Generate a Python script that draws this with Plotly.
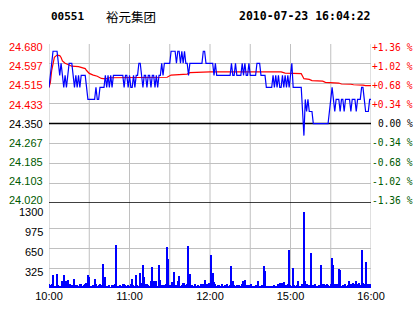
import plotly.graph_objects as go

# ---------------- data ----------------
PREV_CLOSE = 24.35
minutes = list(range(241))

price = [
    24.50, 24.55, 24.60, 24.65, 24.65, 24.65, 24.65, 24.60, 24.55, 24.60,
    24.55, 24.50, 24.55, 24.50, 24.55, 24.60, 24.60, 24.60, 24.55, 24.50,
    24.55, 24.50, 24.55, 24.50, 24.55, 24.55, 24.55, 24.55, 24.50, 24.45,
    24.45, 24.45, 24.45, 24.45, 24.45, 24.50, 24.45, 24.45, 24.50, 24.50,
    24.50, 24.50, 24.55, 24.50, 24.55, 24.50, 24.55, 24.50, 24.55, 24.55,
    24.55, 24.55, 24.55, 24.55, 24.55, 24.55, 24.50, 24.55, 24.55, 24.50,
    24.55, 24.50, 24.50, 24.55, 24.50, 24.55, 24.55, 24.60, 24.60, 24.55,
    24.50, 24.55, 24.55, 24.50, 24.55, 24.55, 24.50, 24.55, 24.55, 24.50,
    24.55, 24.50, 24.55, 24.55, 24.60, 24.55, 24.60, 24.60, 24.60, 24.60,
    24.60, 24.65, 24.65, 24.65, 24.65, 24.60, 24.65, 24.65, 24.60, 24.65,
    24.60, 24.65, 24.60, 24.60, 24.55, 24.60, 24.60, 24.60, 24.60, 24.60,
    24.60, 24.60, 24.60, 24.60, 24.60, 24.65, 24.65, 24.60, 24.60, 24.60,
    24.60, 24.60, 24.60, 24.55, 24.60, 24.55, 24.55, 24.55, 24.55, 24.55,
    24.55, 24.55, 24.55, 24.55, 24.55, 24.55, 24.60, 24.55, 24.55, 24.60,
    24.55, 24.55, 24.55, 24.55, 24.60, 24.55, 24.60, 24.55, 24.55, 24.60,
    24.55, 24.55, 24.55, 24.55, 24.55, 24.60, 24.60, 24.60, 24.55, 24.55,
    24.55, 24.55, 24.50, 24.50, 24.50, 24.50, 24.50, 24.55, 24.50, 24.55,
    24.50, 24.55, 24.50, 24.50, 24.55, 24.50, 24.55, 24.50, 24.55, 24.50,
    24.55, 24.60, 24.50, 24.50, 24.50, 24.50, 24.50, 24.50, 24.50, 24.40,
    24.30, 24.45, 24.40, 24.45, 24.40, 24.40, 24.40, 24.35, 24.35, 24.35,
    24.35, 24.35, 24.35, 24.35, 24.35, 24.35, 24.35, 24.35, 24.35, 24.40,
    24.45, 24.50, 24.45, 24.40, 24.45, 24.45, 24.45, 24.40, 24.45, 24.45,
    24.40, 24.45, 24.45, 24.45, 24.45, 24.40, 24.45, 24.45, 24.45, 24.40,
    24.45, 24.45, 24.45, 24.50, 24.50, 24.45, 24.40, 24.40, 24.40, 24.45,
    24.45,
]

avg_minutes = [0, 1, 2, 3, 4, 6, 8, 9, 10, 12, 15, 17, 22, 25, 27, 28, 30, 33, 36,
               39, 42, 45, 60, 75, 88, 91, 103, 105, 120, 173, 176, 188, 190, 194,
               196, 204, 206, 216, 218, 225, 227, 234, 236, 240]
avg_price = [24.500, 24.520, 24.570, 24.605, 24.625, 24.634, 24.632, 24.624, 24.610,
             24.600, 24.594, 24.588, 24.586, 24.581, 24.578, 24.570, 24.558, 24.551,
             24.546, 24.537, 24.535, 24.540, 24.540, 24.541, 24.542, 24.551, 24.555,
             24.561, 24.564, 24.564, 24.559, 24.557, 24.536, 24.533, 24.528, 24.526,
             24.521, 24.518, 24.514, 24.513, 24.511, 24.509, 24.507, 24.507]

volume = [
    60, 50, 70, 220, 40, 30, 235, 45, 40, 40,
    120, 220, 50, 110, 137, 30, 60, 45, 40, 154,
    50, 55, 40, 60, 60, 40, 45, 70, 90, 220,
    175, 30, 40, 50, 154, 70, 40, 45, 60, 55,
    400, 142, 186, 30, 40, 55, 20, 45, 50, 60,
    714, 40, 35, 45, 40, 60, 70, 45, 35, 50,
    40, 60, 154, 45, 40, 220, 50, 40, 253, 90,
    384, 175, 60, 70, 45, 40, 120, 340, 120, 120,
    120, 40, 384, 140, 45, 40, 50, 60, 680, 483,
    45, 40, 104, 269, 40, 45, 120, 192, 40, 45,
    90, 80, 45, 70, 697, 236, 50, 45, 35, 70,
    40, 50, 40, 70, 40, 60, 137, 45, 70, 80,
    60, 549, 247, 93, 60, 30, 50, 45, 30, 60,
    30, 45, 50, 60, 40, 45, 368, 121, 50, 40,
    45, 30, 50, 40, 60, 110, 137, 30, 45, 50,
    30, 60, 40, 30, 45, 50, 121, 30, 35, 50,
    368, 285, 40, 35, 30, 40, 30, 30, 45, 30,
    40, 60, 80, 40, 82, 100, 40, 55, 70, 620,
    55, 40, 335, 45, 30, 50, 121, 30, 40, 60,
    1246, 110, 60, 30, 55, 571, 30, 50, 60, 30,
    40, 55, 30, 384, 60, 70, 45, 70, 50, 40,
    60, 500, 373, 70, 45, 60, 318, 291, 30, 50,
    40, 60, 30, 50, 110, 70, 60, 80, 60, 120,
    60, 80, 50, 620, 90, 70, 423, 30, 60, 70,
    60,
]

price_ticks = [24.020, 24.1025, 24.185, 24.2675, 24.350, 24.4325, 24.515, 24.5975, 24.680]
price_labels = ["24.020", "24.103", "24.185", "24.267", "24.350", "24.433", "24.515", "24.597", "24.680"]
pct_labels = ["-1.36 %", "-1.02 %", "-0.68 %", "-0.34 %", "0.00 %", "+0.34 %", "+0.68 %", "+1.02 %", "+1.36 %"]
vol_ticks = [0, 325, 650, 975, 1300]
vol_labels = ["", "325", "650", "975", "1300"]
grid_minutes = [0, 30, 60, 90, 120, 150, 180, 210, 240]
time_ticks = [0, 60, 120, 180, 240]
time_labels = ["10:00", "11:00", "12:00", "15:00", "16:00"]
stock_code = "00551"
stock_name = "裕元集团"
stamp = "2010-07-23 16:04:22"

# ---------------- style ----------------
RED = "#ff0000"
GREEN = "#005a00"
BLUE = "#0000ff"
GRID = "#c0c0c0"


def colour_for(v):
    if v > PREV_CLOSE + 1e-9:
        return RED
    if v < PREV_CLOSE - 1e-9:
        return GREEN
    return "#000000"


fig = go.Figure()

fig.add_trace(go.Scatter(x=avg_minutes, y=avg_price, mode="lines",
                         line=dict(color=RED, width=1.2), xaxis="x", yaxis="y",
                         hoverinfo="skip"))
fig.add_trace(go.Scatter(x=minutes, y=price, mode="lines",
                         line=dict(color=BLUE, width=1.2), xaxis="x", yaxis="y",
                         hoverinfo="skip"))
fig.add_trace(go.Bar(x=minutes, y=volume, width=0.9, marker=dict(color=BLUE, line=dict(width=0)),
                     xaxis="x2", yaxis="y2", hoverinfo="skip"))

shapes = []
for gm in grid_minutes:
    shapes.append(dict(type="line", xref="x", yref="paper", x0=gm, x1=gm, y0=0, y1=1,
                       line=dict(color=GRID, width=1), layer="below"))
for yv in (PREV_CLOSE, price_ticks[0]):
    shapes.append(dict(type="line", xref="x", yref="y", x0=0, x1=240, y0=yv, y1=yv,
                       line=dict(color="#000000", width=1.6), layer="between"))

label_font = dict(family="Liberation Sans, Arial, sans-serif", size=11, color="#000000")
mono_font = "DejaVu Sans Mono, monospace"

fig.update_layout(
    width=414, height=314,
    margin=dict(l=49, r=43, t=44, b=26),
    paper_bgcolor="white", plot_bgcolor="rgba(0,0,0,0)",
    showlegend=False, bargap=0,
    shapes=shapes,
    xaxis=dict(domain=[0, 1], range=[0, 240], showgrid=False, zeroline=False,
               showticklabels=False, anchor="y", fixedrange=True, automargin=False),
    xaxis2=dict(domain=[0, 1], range=[0, 240], showgrid=False, zeroline=False,
                tickmode="array", tickvals=time_ticks, ticktext=time_labels,
                tickfont=label_font, ticks="", anchor="y2", fixedrange=True,
                automargin=False),
    yaxis=dict(domain=[0.348, 1], range=[price_ticks[0], price_ticks[-1]],
               tickmode="array", tickvals=price_ticks, showticklabels=False,
               showgrid=True, gridcolor=GRID, gridwidth=1, zeroline=False,
               ticks="", anchor="x", automargin=False),
    yaxis2=dict(domain=[0, 0.324], range=[0, 1300], tickmode="array",
                tickvals=vol_ticks, showticklabels=False, showgrid=True, gridcolor=GRID,
                gridwidth=1, zeroline=False, ticks="", anchor="x2", automargin=False),
)

# price axis labels (left) and percentage labels (right), placed via the y scale
for i, (v, lt, pt) in enumerate(zip(price_ticks, price_labels, pct_labels)):
    shift = 2.8 - 0.75 * i
    col = colour_for(v)
    fig.add_annotation(text=lt, xref="paper", yref="y", x=-0.015, y=v, yshift=shift,
                       xanchor="right", yanchor="middle", showarrow=False, borderpad=0,
                       font=dict(family="Liberation Sans, Arial, sans-serif", size=11, color=col))
    fig.add_annotation(text=pt, xref="paper", yref="y", x=1.134, y=v, yshift=shift,
                       xanchor="right", yanchor="middle", showarrow=False, borderpad=0,
                       font=dict(family=mono_font, size=9.6, color=col))

for v, t in zip(vol_ticks, vol_labels):
    if not t:
        continue
    fig.add_annotation(text=t, xref="paper", yref="y2", x=-0.015, y=v, yshift=-3.3,
                       xanchor="right", yanchor="middle", showarrow=False, borderpad=0,
                       font=label_font)

title_y = 1.113
fig.add_annotation(text="<b>%s</b>" % stock_code, xref="paper", yref="paper", x=0.0, y=title_y,
                   xanchor="left", yanchor="middle", showarrow=False,
                   font=dict(family=mono_font, size=11, color="#000000"))
fig.add_annotation(text=stock_name, xref="paper", yref="paper", x=0.172, y=title_y,
                   xanchor="left", yanchor="middle", showarrow=False,
                   font=dict(family="Noto Sans CJK SC", size=12.5, color="#000000"))
fig.add_annotation(text="<b>%s</b>" % stamp, xref="paper", yref="paper", x=0.584, y=title_y,
                   xanchor="left", yanchor="middle", showarrow=False,
                   font=dict(family=mono_font, size=11.5, color="#000000"))

fig.write_html("out.html")
